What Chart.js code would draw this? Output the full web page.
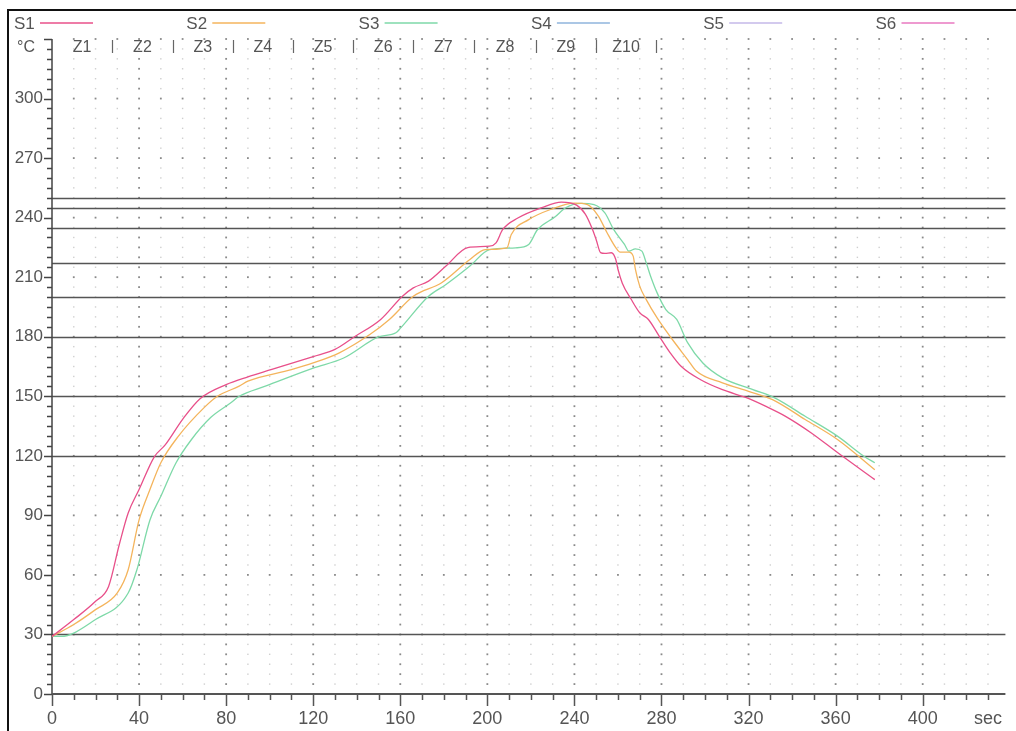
<!DOCTYPE html>
<html>
<head>
<meta charset="utf-8">
<script src="https://cdn.jsdelivr.net/npm/chart.js@4.4.1/dist/chart.umd.min.js"></script>
<style>
  html, body { margin: 0; padding: 0; background: #fff; }
  #wrap { position: relative; width: 1016px; height: 731px; overflow: hidden; }
  #frame { position: absolute; left: 7px; top: 9px; right: -4px; bottom: -4px;
           border-left: 2px solid #111; border-top: 2px solid #111; }
  canvas { position: absolute; left: 0; top: 0; }
</style>
</head>
<body>
<div id="wrap">
  <div id="frame"></div>
  <canvas id="Chart" width="1016" height="731" style="width:1016px;height:731px"></canvas>
</div>
<script>
//probe names and colours
var seriesNames = ["S1", "S2", "S3", "S4", "S5", "S6"];
var seriesColors = ["#e8508a", "#f4b45c", "#7ed9a8", "#8fb4dc", "#c4b8e8", "#e978c0"];

//probe S1 : time (sec) / temperature (°C)
var s1Time = [0, 10, 20, 26, 31, 35, 40, 47, 52, 60, 68, 80, 90, 101, 120, 130, 139, 151, 161, 166, 173, 181,
  191, 201, 204, 207, 214, 225, 234, 241, 245, 248, 250, 252, 254, 257, 259, 260, 262, 266, 270, 274, 279, 284,
  289, 298, 308, 319, 328, 337, 349, 361, 378];
var s1Temp = [29, 37.5, 46.7, 54.2, 75.7, 91.2, 103, 119.5, 125.5, 138.4, 148.8, 155.9, 159.8, 163.5, 170, 173.6,
  180, 188.7, 200.4, 204.6, 208, 215.6, 224.9, 225.6, 227.3, 233.9, 239.8, 245, 247.8, 246.3, 241.8, 234.9, 228.9,
  222.4, 222, 222.3, 218.9, 214, 207, 199, 192.1, 188.7, 180.2, 171.9, 165.1, 158.3, 153.3, 149.3, 144.9, 139.9,
  131.4, 121.5, 108];

//probe S2
var s2Time = [0, 10, 20, 30, 35, 40, 45, 50, 58, 70, 76, 86, 90, 110, 120, 132, 146, 155, 166, 179, 192, 199, 209,
  211, 219, 229, 240, 246, 251, 255, 259, 261, 265, 267, 268, 270, 273, 278, 285, 292, 296, 308, 320, 331, 346,
  361, 378];
var s2Temp = [29, 35, 42.5, 50.9, 62.6, 87.7, 103, 116.5, 129.8, 144.4, 150, 155.1, 157.6, 163.4, 166.8, 171.9,
  181.1, 188.7, 200.4, 207.2, 218.9, 223.9, 224.8, 231.5, 239, 244.1, 247.3, 246.6, 240.8, 232.4, 224.9, 222.6,
  222.6, 220.6, 214, 205.5, 198.7, 189.5, 178.6, 168.5, 162.7, 156.8, 152.5, 148.3, 138.3, 128.1, 113];

//probe S3
var s3Time = [0, 4, 20, 35, 39, 45, 50, 57, 64, 73, 82, 86, 98, 120, 134, 150, 158, 160, 173, 181, 192, 201, 213,
  219, 223, 231, 236, 243, 249, 254, 258, 263, 265, 268, 271, 273, 275, 278, 282, 287, 292, 299, 308, 322, 332,
  346, 361, 373, 378];
var s3Temp = [29, 29, 37.5, 50.9, 62.6, 87.7, 99.6, 116.5, 128.1, 139.4, 146.6, 150, 155.1, 164.2, 169.3, 179.9,
  182, 184.2, 200.4, 206.3, 215.6, 223.9, 224.8, 226.5, 233.9, 240.3, 245, 247.2, 246.6, 242.4, 234.1, 226.5,
  223.1, 224.3, 223.1, 217.2, 210.5, 202.1, 193.7, 188.7, 177, 166.8, 159.3, 153.4, 149.2, 139.9, 129.8, 119.8,
  116.5];

//oven zones : names and limits (sec)
var zoneNames = ["Z1", "Z2", "Z3", "Z4", "Z5", "Z6", "Z7", "Z8", "Z9", "Z10"];
var zoneLimits = [0, 27.7, 55.4, 83.2, 110.5, 138.5, 165.8, 193.8, 222.4, 249.7, 277.7];

//reference levels (°C)
var refLevels = [30, 120, 150, 180, 200, 217, 235, 245, 250];

//axis labels
var xLabels = [0, 40, 80, 120, 160, 200, 240, 280, 320, 360, 400];
var yLabels = [0, 30, 60, 90, 120, 150, 180, 210, 240, 270, 300];
var xUnit = "sec";
var yUnit = "°C";

var FONT = "'Liberation Sans', Arial, sans-serif";
var INK = "#555";

function toPoints(times, temps) {
  return times.map(function (t, i) {
    return { x: t, y: temps[i] };
  });
}

var seriesData = [toPoints(s1Time, s1Temp), toPoints(s2Time, s2Temp), toPoints(s3Time, s3Temp), [], [], []];

//dotted grid, reference levels, axes and tick marks
var paperPlugin = {
  id: "paper",
  beforeDatasetsDraw: function (chart) {
    var ctx = chart.ctx, xs = chart.scales.x, ys = chart.scales.y, a = chart.chartArea;
    ctx.save();
    for (var t = 10; t <= 430; t += 10) {
      for (var v = 5; v <= 330; v += 5) {
        var px = xs.getPixelForValue(t), py = ys.getPixelForValue(v);
        var strong = t % 40 === 0 || v % 30 === 0;
        ctx.fillStyle = strong ? "#8a8a8a" : "#cfcfcf";
        var r = strong ? 1.8 : 1.4;
        ctx.fillRect(px - r / 2, py - r / 2, r, r);
      }
    }
    //reference levels
    ctx.strokeStyle = "#555";
    ctx.lineWidth = 1.5;
    refLevels.forEach(function (lv) {
      var py = Math.round(ys.getPixelForValue(lv)) + 0.5;
      ctx.beginPath();
      ctx.moveTo(a.left, py);
      ctx.lineTo(a.right, py);
      ctx.stroke();
    });
    //y axis and ticks
    ctx.strokeStyle = "#444";
    ctx.lineWidth = 1.5;
    ctx.beginPath();
    ctx.moveTo(a.left, a.top);
    ctx.lineTo(a.left, a.bottom);
    for (var v2 = 0; v2 <= 330; v2 += 5) {
      var py2 = Math.round(ys.getPixelForValue(v2)) + 0.5;
      ctx.moveTo(a.left - (v2 % 30 === 0 ? 8 : 5), py2);
      ctx.lineTo(a.left, py2);
    }
    ctx.stroke();
    //x axis and ticks
    ctx.strokeStyle = "#555";
    ctx.lineWidth = 2;
    ctx.beginPath();
    ctx.moveTo(a.left, a.bottom);
    ctx.lineTo(a.right, a.bottom);
    ctx.stroke();
    ctx.lineWidth = 1.5;
    ctx.beginPath();
    for (var t2 = 0; t2 <= 430; t2 += 10) {
      var px2 = Math.round(xs.getPixelForValue(t2)) + 0.5;
      ctx.moveTo(px2, a.bottom);
      ctx.lineTo(px2, a.bottom + (t2 % 40 === 0 ? 12 : 6));
    }
    ctx.stroke();
    ctx.restore();
  },
  afterDraw: function (chart) {
    var ctx = chart.ctx, xs = chart.scales.x;
    ctx.save();
    //legend
    ctx.font = "17px " + FONT;
    ctx.textBaseline = "middle";
    chart.data.datasets.forEach(function (ds, i) {
      var lx = 14 + i * 172.3;
      ctx.fillStyle = INK;
      ctx.textAlign = "left";
      ctx.fillText(ds.label, lx, 24);
      ctx.strokeStyle = ds.borderColor;
      ctx.lineWidth = 1.5;
      ctx.beginPath();
      ctx.moveTo(lx + 26, 23);
      ctx.lineTo(lx + 79, 23);
      ctx.stroke();
    });
    //zones
    ctx.font = "16px " + FONT;
    ctx.fillStyle = INK;
    ctx.textAlign = "center";
    zoneNames.forEach(function (z, i) {
      var mid = (zoneLimits[i] + zoneLimits[i + 1]) / 2;
      ctx.fillText(z, xs.getPixelForValue(mid), 48);
    });
    ctx.strokeStyle = "#666";
    ctx.lineWidth = 1.2;
    ctx.beginPath();
    for (var k = 1; k < zoneLimits.length; k++) {
      var sx = Math.round(xs.getPixelForValue(zoneLimits[k])) + 0.5;
      ctx.moveTo(sx, 40);
      ctx.lineTo(sx, 53);
    }
    ctx.stroke();
    //unit of the y axis
    ctx.font = "16px " + FONT;
    ctx.fillText(yUnit, 26, 48);
    ctx.restore();
  },
};

var ctx = document.getElementById("Chart").getContext("2d");
var myChart = new Chart(ctx, {
  type: "line",
  data: {
    datasets: seriesNames.map(function (name, i) {
      return {
        label: name,
        data: seriesData[i],
        borderColor: seriesColors[i],
        backgroundColor: seriesColors[i],
        borderWidth: 1.3,
        pointRadius: 0,
        fill: false,
        cubicInterpolationMode: "monotone",
      };
    }),
  },
  options: {
    responsive: false,
    animation: false,
    layout: { padding: { top: 39, left: 0, right: 0, bottom: 0 } },
    plugins: { legend: { display: false }, tooltip: { enabled: false } },
    scales: {
      x: {
        type: "linear",
        min: 0,
        max: 438,
        afterFit: function (s) { s.height = 37; },
        border: { display: false },
        grid: { display: false, tickLength: 0 },
        ticks: {
          stepSize: 10,
          autoSkip: false,
          maxRotation: 0,
          includeBounds: false,
          padding: 14,
          color: INK,
          font: { family: FONT, size: 18 },
          callback: function (v) {
            if (xLabels.indexOf(v) >= 0) return String(v);
            return v === 430 ? xUnit : "";
          },
        },
      },
      y: {
        type: "linear",
        min: 0,
        max: 330,
        afterFit: function (s) { s.width = 52; },
        border: { display: false },
        grid: { display: false, tickLength: 0 },
        ticks: {
          stepSize: 5,
          autoSkip: false,
          includeBounds: false,
          padding: 9,
          color: INK,
          font: { family: FONT, size: 17 },
          callback: function (v) {
            return yLabels.indexOf(v) >= 0 ? String(v) : "";
          },
        },
      },
    },
  },
  plugins: [paperPlugin],
});
</script>
</body>
</html>
